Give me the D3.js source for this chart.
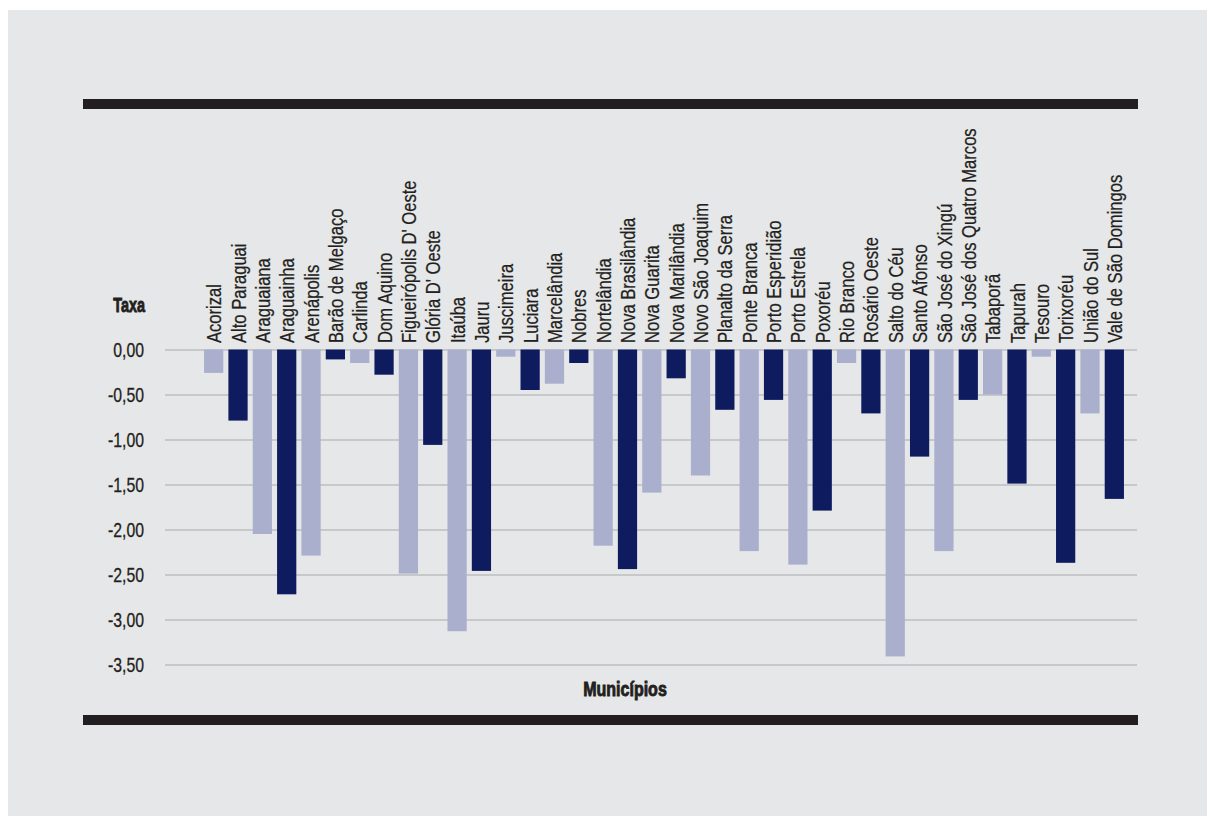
<!DOCTYPE html>
<html>
<head>
<meta charset="utf-8">
<script src="https://cdn.jsdelivr.net/npm/d3@7"></script>
<style>
  body { margin: 0; background: #fff; }
  svg { display: block; }
</style>
</head>
<body>
<svg id="chart"></svg>
<script>

var municipios = ["Acorizal", "Alto Paraguai", "Araguaiana", "Araguainha", "Arenápolis",
	"Barão de Melgaço", "Carlinda", "Dom Aquino", "Figueirópolis D' Oeste", "Glória D' Oeste",
	"Itaúba", "Jauru", "Juscimeira", "Luciara", "Marcelândia", "Nobres", "Nortelândia",
	"Nova Brasilândia", "Nova Guarita", "Nova Marilândia", "Novo São Joaquim", "Planalto da Serra",
	"Ponte Branca", "Porto Esperidião", "Porto Estrela", "Poxoréu", "Rio Branco", "Rosário Oeste",
	"Salto do Céu", "Santo Afonso", "São José do Xingú", "São José dos Quatro Marcos", "Tabaporã",
	"Tapurah", "Tesouro", "Torixoréu", "União do Sul", "Vale de São Domingos"];

var taxa = [-0.26, -0.79, -2.05, -2.72, -2.29, -0.11, -0.15, -0.28, -2.49, -1.06,
	-3.13, -2.46, -0.08, -0.45, -0.38, -0.15, -2.18, -2.44, -1.59, -0.32,
	-1.40, -0.67, -2.24, -0.56, -2.39, -1.79, -0.15, -0.71, -3.41, -1.19,
	-2.24, -0.56, -0.50, -1.49, -0.08, -2.37, -0.71, -1.66];

var yTicks = [0, -0.5, -1, -1.5, -2, -2.5, -3, -3.5];

var W = 1207, H = 816;
var font = "'Liberation Sans', Arial, sans-serif";
var ink = "#231f20";
var squeeze = 0.79; // the original type is a condensed face

var svg = d3.select("#chart")
	.attr("width", W)
	.attr("height", H)

// panel
svg.append("rect")
	.attr("x", 8).attr("y", 10)
	.attr("width", W - 8).attr("height", H - 10)
	.style("fill", "#e6e7e8")

// top and bottom rules
svg.append("rect").attr("x", 83).attr("y", 99).attr("width", 1055).attr("height", 10).style("fill", ink)
svg.append("rect").attr("x", 83).attr("y", 715).attr("width", 1055).attr("height", 10).style("fill", ink)

var x = d3.scaleBand()
	.domain(municipios)
	.range([201.5, 1126.5])
	.paddingInner(0.21)
	.paddingOuter(0.105);

var y = d3.scaleLinear()
	.domain([0, -3.5])
	.range([349.5, 664.5]);

// grid + tick labels
var yAxis = d3.axisLeft(y)
	.tickValues(yTicks)
	.tickSize(-(1137 - 165))
	.tickFormat(function(d) { return d3.format(".2f")(d).replace(".", ",").replace("−", "-"); });

var gy = svg.append("g")
	.attr("transform", "translate(165,0)")
	.call(yAxis);

gy.select(".domain").remove();
gy.selectAll("line")
	.style("stroke", "#bcbec0")
	.style("stroke-width", "1.5px")
	.attr("x1", 0);
gy.selectAll("text")
	.attr("x", 0)
	.attr("dy", "0.36em")
	.attr("transform", "translate(-21,0) scale(" + squeeze + ",1)")
	.style("text-anchor", "end")
	.style("font-family", font)
	.style("font-size", "20px")
	.style("fill", ink)
	.style("stroke", ink)
	.style("stroke-width", "0.3px");

// bars
svg.selectAll("rect.bar")
	.data(taxa)
	.enter().append("rect")
	.attr("class", "bar")
	.attr("x", function(d, i) { return x(municipios[i]); })
	.attr("y", y(0))
	.attr("width", x.bandwidth())
	.attr("height", function(d) { return y(d) - y(0); })
	.style("fill", function(d, i) { return i % 2 ? "#0e1b5e" : "#abafce"; });

// category labels, vertical
svg.selectAll("text.cat")
	.data(municipios)
	.enter().append("text")
	.attr("class", "cat")
	.attr("transform", function(d) {
		return "translate(" + (x(d) + x.bandwidth() / 2) + ",343) rotate(-90) scale(" + squeeze + ",1)";
	})
	.attr("dy", "0.36em")
	.style("font-family", font)
	.style("font-size", "21px")
	.style("fill", ink)
	.style("stroke", ink)
	.style("stroke-width", "0.25px")
	.text(function(d) { return d; });

// axis titles
svg.append("text")
	.attr("transform", "translate(145,312) scale(0.72,1)")
	.style("text-anchor", "end")
	.style("font-family", font)
	.style("font-size", "20px")
	.style("font-weight", "bold")
	.style("fill", ink)
	.style("stroke", ink)
	.style("stroke-width", "0.9px")
	.text("Taxa");

svg.append("text")
	.attr("transform", "translate(625,696) scale(0.8,1)")
	.style("text-anchor", "middle")
	.style("font-family", font)
	.style("font-size", "20px")
	.style("font-weight", "bold")
	.style("fill", ink)
	.style("stroke", ink)
	.style("stroke-width", "0.9px")
	.text("Municípios");

</script>
</body>
</html>
